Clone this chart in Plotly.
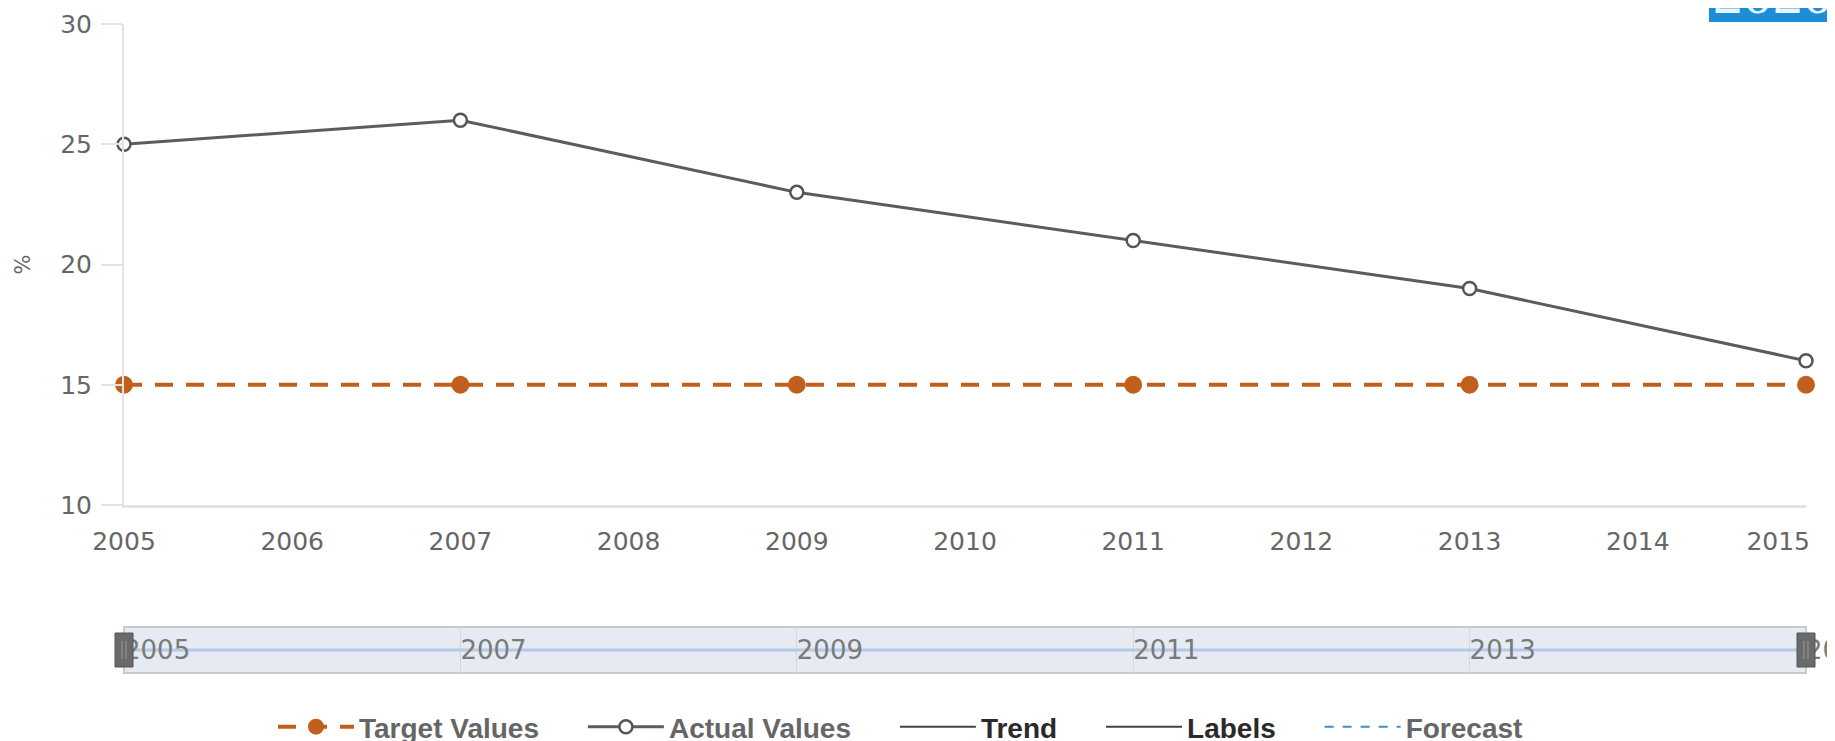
import plotly.graph_objects as go

# data
years = [2005, 2007, 2009, 2011, 2013, 2015]
target_values = [15, 15, 15, 15, 15, 15]
actual_values = [25, 26, 23, 21, 19, 16]

x_tick_years = list(range(2005, 2016))
x_tick_labels = [str(y) for y in x_tick_years]
y_tick_vals = [10, 15, 20, 25, 30]
nav_tick_years = [2005, 2007, 2009, 2011, 2013, 2015]
nav_tick_labels = [str(y) for y in nav_tick_years]

ORANGE = '#c0601c'
GREY_LINE = '#5c5c5c'
AXIS_GREY = '#e3e3e3'
TEXT_GREY = '#666666'

# the page body has an 8px margin, so the figure is placed at (8, 8) in the window
OFF = 8
WIN_W, WIN_H = 1835, 741
W, H = WIN_W - OFF, WIN_H - OFF
# plot box in window pixels
PL, PR, PT, PB = 124, 1806, 24, 673
M = dict(l=PL - OFF, r=WIN_W - PR, t=PT - OFF, b=WIN_H - PB)
plot_w = PR - PL
plot_h = PB - PT


def px_x(x):
    return (x - PL) / plot_w


def px_y(y):
    return (PB - y) / plot_h


# highcharts pushes the last label inside the plot, pad it to get the same look
main_labels = x_tick_labels[:-1] + [x_tick_labels[-1] + '\u00a0' * 7]

pad = '\u00a0' * 5
fig = go.Figure()
fig.add_trace(go.Scatter(
    x=years, y=target_values, name='Target Values' + pad,
    mode='lines+markers', cliponaxis=False,
    line=dict(color=ORANGE, width=4, dash='18px,13px'),
    marker=dict(size=18, color=ORANGE)
))
fig.add_trace(go.Scatter(
    x=years, y=actual_values, name='Actual Values' + pad,
    mode='lines+markers', cliponaxis=False,
    line=dict(color=GREY_LINE, width=3),
    marker=dict(size=13, color='white', line=dict(color='#555555', width=2.5))
))
fig.add_trace(go.Scatter(x=[None], y=[None], mode='lines', name='<span style="color:#2a2a2a">Trend</span>' + pad,
                         line=dict(color='#444444', width=2)))
fig.add_trace(go.Scatter(x=[None], y=[None], mode='lines', name='<span style="color:#2a2a2a">Labels</span>' + pad,
                         line=dict(color='#444444', width=2)))
fig.add_trace(go.Scatter(x=[None], y=[None], mode='lines', name='Forecast',
                         line=dict(color='#3a8fd0', width=2, dash='dash')))

# navigator series
fig.add_trace(go.Scatter(
    x=years, y=target_values, xaxis='x2', yaxis='y2', mode='lines',
    line=dict(color='#b3c9e6', width=3), showlegend=False, hoverinfo='skip'
))

tick_font = dict(family='DejaVu Sans', size=25, color=TEXT_GREY)

fig.update_layout(
    template='none',
    width=W, height=H,
    margin=dict(l=M['l'], r=M['r'], t=M['t'], b=M['b'], autoexpand=False),
    plot_bgcolor='white', paper_bgcolor='white',
    xaxis=dict(
        range=[years[0], years[-1]], domain=[0, 1], anchor='y',
        tickvals=x_tick_years, ticktext=main_labels, ticks='',
        ticklabelstandoff=12, ticklabeloverflow='allow',
        showgrid=False, zeroline=False,
        showline=True, linecolor=AXIS_GREY, linewidth=3,
        tickfont=tick_font
    ),
    yaxis=dict(
        range=[10, 30], domain=[px_y(505), 1], anchor='x',
        tickvals=y_tick_vals, ticks='outside', ticklen=21, tickwidth=2, tickcolor=AXIS_GREY,
        ticklabelstandoff=4,
        showgrid=False, zeroline=False,
        showline=True, linecolor=AXIS_GREY, linewidth=2,
        tickfont=tick_font,
        title=dict(text='%', font=dict(family='DejaVu Sans', size=21, color=TEXT_GREY), standoff=24)
    ),
    xaxis2=dict(
        range=[years[0], years[-1]], domain=[0, 1], anchor='y2',
        tickvals=nav_tick_years, ticktext=nav_tick_labels, ticks='',
        ticklabelposition='inside right', ticklabeloverflow='allow', ticklabelstandoff=3,
        showgrid=True, gridcolor='#d3d9e3', gridwidth=1,
        zeroline=False, showline=False,
        tickfont=dict(family='DejaVu Sans', size=26, color='#7a7a7a')
    ),
    yaxis2=dict(
        range=[10, 20], domain=[0, px_y(627)], anchor='x2',
        showticklabels=False, showgrid=False, zeroline=False, showline=False, ticks=''
    ),
    showlegend=True,
    legend=dict(
        orientation='h', x=px_x(273), y=px_y(727), xanchor='left', yanchor='middle',
        bgcolor='rgba(0,0,0,0)', itemsizing='trace', itemwidth=76,
        font=dict(family='Liberation Sans Narrow, Liberation Sans', size=28, weight='bold', color=TEXT_GREY)
    ),
    hovermode='closest',
)

# navigator box
fig.add_shape(type='rect', xref='x2 domain', yref='y2 domain', x0=0, x1=1, y0=0, y1=1,
              fillcolor='#e6ebf3', line=dict(color='#c6c9ce', width=2), layer='below')

# navigator handles at both ends
for hx in (0, 1):
    fig.add_shape(type='rect', xref='paper', yref='y2 domain',
                  xsizemode='pixel', xanchor=hx, x0=-9, x1=9,
                  ysizemode='pixel', yanchor=0.5, y0=-17, y1=17,
                  fillcolor='#6a6a6a', line=dict(color='#555555', width=1), layer='above')
    for gx in (-2, 2):
        fig.add_shape(type='line', xref='paper', yref='y2 domain',
                      xsizemode='pixel', xanchor=hx, x0=gx, x1=gx,
                      ysizemode='pixel', yanchor=0.5, y0=-9, y1=9,
                      line=dict(color='#9a9a9a', width=1), layer='above')

# cropped logo in the top right corner
fig.add_shape(type='rect', xref='paper', yref='paper',
              x0=px_x(1709), x1=px_x(WIN_W + 5), y0=px_y(22), y1=px_y(0),
              fillcolor='#1b8fd6', line=dict(width=0), layer='above')
fig.add_annotation(text='2020', xref='paper', yref='paper', x=px_x(1711), y=px_y(28),
                   xanchor='left', yanchor='bottom', showarrow=False,
                   font=dict(family='Liberation Serif', size=60, color='#e8f4ff'))

fig.write_html("out.html")
